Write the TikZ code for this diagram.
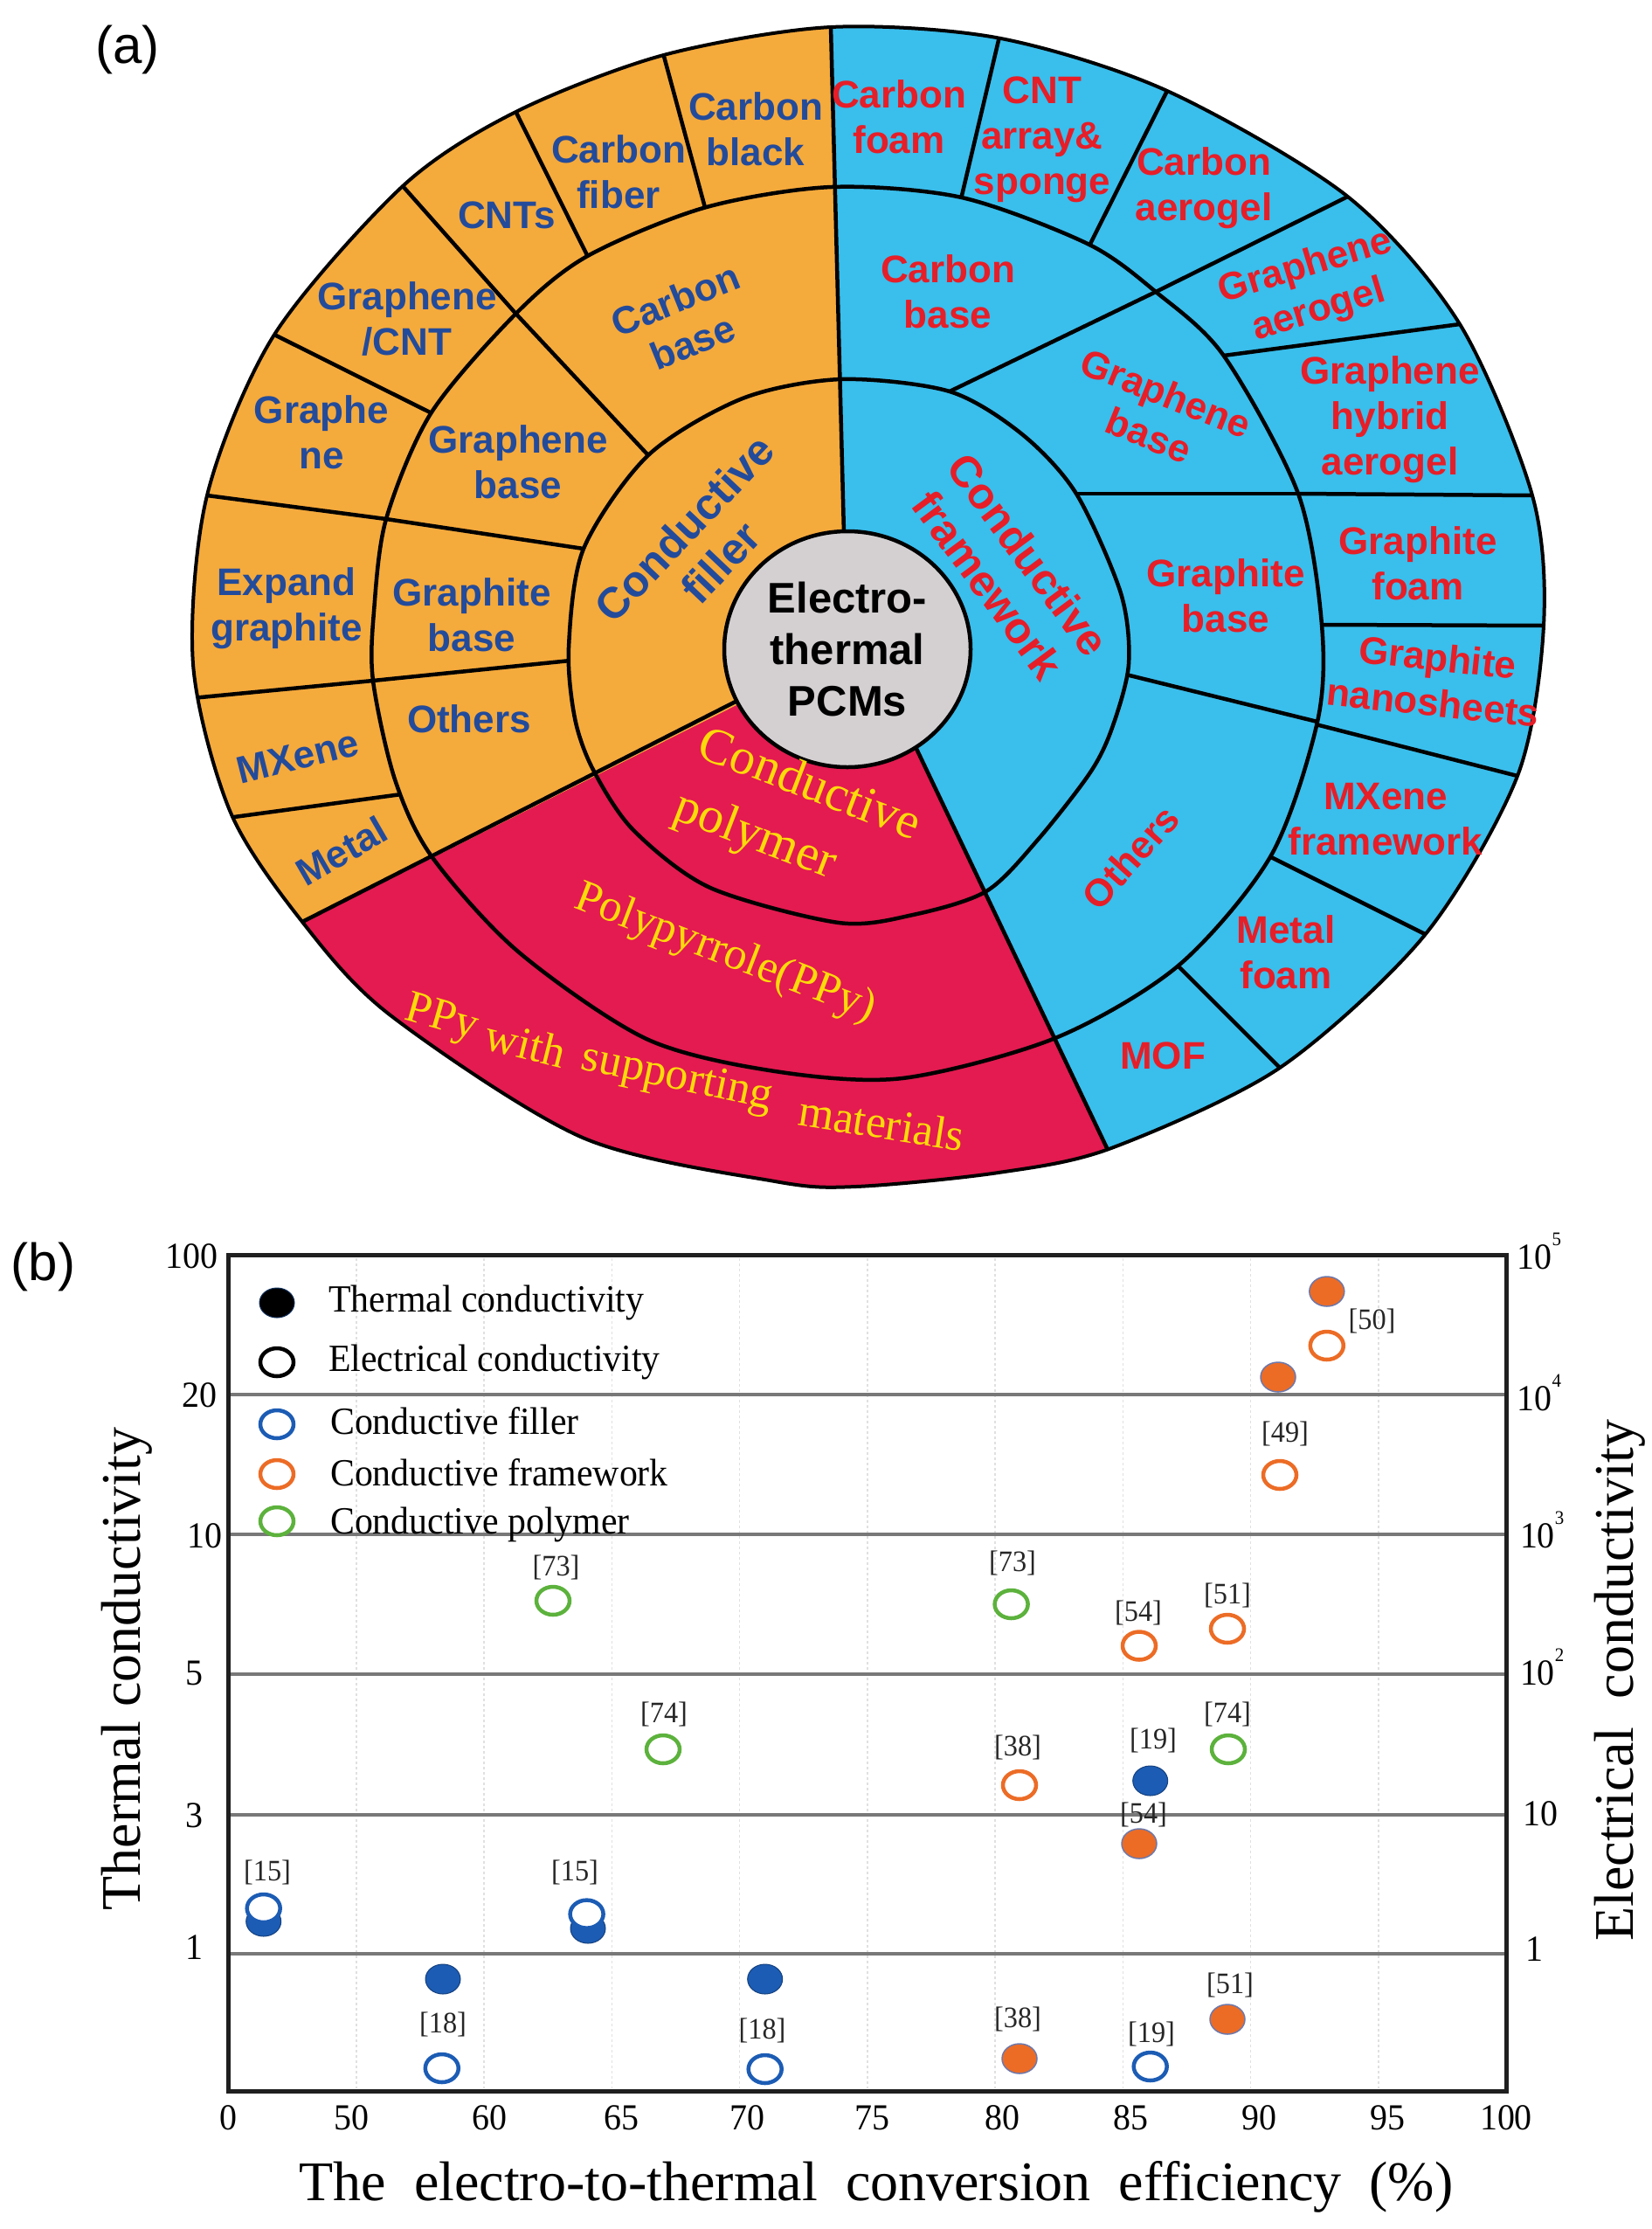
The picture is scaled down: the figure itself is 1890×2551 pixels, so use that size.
\documentclass[tikz,border=0pt]{standalone}
\usepackage{fontspec}
\usetikzlibrary{calc,shapes.geometric}
\newfontfamily\lsans{Liberation Sans}
\newfontfamily\lserif{Liberation Serif}
\newfontfamily\lserifc{Liberation Serif}[FakeStretch=0.95]
\definecolor{cOr}{RGB}{245,170,60}
\definecolor{cBl}{RGB}{58,190,236}
\definecolor{cRd}{RGB}{227,27,80}
\definecolor{cGr}{RGB}{212,208,210}
\definecolor{tBlue}{RGB}{35,75,155}
\definecolor{tRed}{RGB}{230,30,40}
\definecolor{tYel}{RGB}{252,218,10}
\definecolor{pBlue}{RGB}{28,92,180}
\definecolor{pOrange}{RGB}{236,108,38}
\definecolor{pGreen}{RGB}{92,178,60}
\definecolor{pEdge}{RGB}{110,120,170}
\definecolor{gridc}{RGB}{120,120,120}
\newcommand{\outerpath}{plot[smooth cycle] coordinates {(951,31) (1143.6,43.6) (1336,104) (1542.7,225) (1671,371) (1754,567) (1767,716) (1737,888) (1631,1070) (1465,1222) (1272,1314) (1143,1342) (980,1358) (887,1352) (667,1302) (447,1162) (346,1055) (264,930) (221,760) (237,567) (314,383) (461,213) (590.5,128) (759.6,63)}}
\newcommand{\levtwopath}{plot[smooth cycle] coordinates {(952,214) (1100.7,226) (1245,279) (1323,334) (1400.7,407) (1486,565) (1513,715) (1508,826) (1455,979) (1349,1105) (1208,1188) (1033,1234) (887,1226) (740,1189) (593,1089) (494,980) (452,892) (427,779) (428,700) (442,594) (493.5,472.6) (590.5,359) (672.5,293) (807,237.5)}}
\newcommand{\levonepath}{plot[smooth cycle] coordinates {(963,434) (1087,448) (1170,497) (1232,565) (1283,679) (1292,760) (1273,833) (1248,884) (1188,961) (1129,1020) (1045,1047) (960,1056) (813,1016) (725,950) (679,881) (658,822) (651,741) (668,628) (742,521) (850,456)}}
\newcommand{\wedgefills}{%
 \fill[cOr] (969,744) -- (948.6,-60) -- (100,-60) -- (100,1180) -- cycle;
 \fill[cBl] (969,744) -- (948.6,-60) -- (1850,-60) -- (1850,1450) -- (1332,1450) -- (1031,820) -- cycle;
 \fill[cRd] (969,744) -- (100,1180) -- (100,1450) -- (1332,1450) -- (1031,820) -- cycle;}
\newcommand{\tensup}[1]{10\raisebox{0.62em}{\fontsize{22}{22}\selectfont #1}}
\begin{document}
\begin{tikzpicture}[x=1pt,y=-1pt,
 seg/.style={line width=4.5pt},
 rim/.style={line width=4pt},
 otxt/.style={font=\lsans\bfseries\fontsize{44}{52}\selectfont, text=tBlue, align=center, inner sep=0pt},
 btxt/.style={font=\lsans\bfseries\fontsize{44}{52}\selectfont, text=tRed, align=center, inner sep=0pt},
 ytxt/.style={font=\lserif\fontsize{52}{60}\selectfont, text=tYel, inner sep=0pt},
 hgrid/.style={line width=4pt, draw=gridc},
 vgrid/.style={line width=1.5pt, draw=black!12, dash pattern=on 3pt off 3pt},
 plotframe/.style={line width=5pt, draw=black!88},
 tick/.style={font=\lserifc\fontsize{42}{42}\selectfont, inner sep=0pt},
 reflbl/.style={font=\lserifc\fontsize{34}{34}\selectfont, inner sep=0pt, text=black!85},
 lgtxt/.style={font=\lserifc\fontsize{44}{44}\selectfont, inner sep=0pt, anchor=base west},
 axtitle/.style={font=\lserif\fontsize{64}{64}\selectfont, inner sep=0pt},
 mkfill/.style={ellipse, minimum width=40pt, minimum height=34pt, inner sep=0pt},
 mkopen/.style={ellipse, minimum width=38pt, minimum height=32pt, inner sep=0pt, line width=4.5pt, fill=white},
 tfB/.style={mkfill, fill=pBlue, draw=pBlue!70!black, line width=1pt},
 tfO/.style={mkfill, fill=pOrange, draw=pEdge, line width=1.5pt},
 ecB/.style={mkopen, draw=pBlue},
 ecO/.style={mkopen, draw=pOrange},
 ecG/.style={mkopen, draw=pGreen}]
\fill[white] (0,0) rectangle (1890,2551);
\useasboundingbox (0,0) rectangle (1890,2551);
% ---------- (a) sunburst ----------
\begin{scope}
 \clip \outerpath;
 \wedgefills
 \foreach \ax/\ay/\bx/\by in {807/237.5/759.6/63, 672.5/293/590.5/128, 590.5/359/461/213, 493.5/472.6/314/383, 442/594/237/567, 427/779/230/798, 452/910/268/935, 1100.7/225/1143.6/43.6, 1248/279/1336/104, 1323/334/1542.7/225, 1400.7/407/1671/371, 1486/565/1754/567, 1516/715/1767/716, 1510/830/1737/888, 1455/981/1631/1069, 1349/1106/1465/1222}
  \draw[seg] ($(\ax,\ay)!-40pt!(\bx,\by)$) -- ($(\bx,\by)!-40pt!(\ax,\ay)$);
\end{scope}
\begin{scope}
 \clip \levtwopath;
 \wedgefills
 \foreach \ax/\ay/\bx/\by in {742/521/590.5/359, 668/628/442/594, 643/757/427/779, 1087/448/1323/334, 1232/565/1486/565, 1293/773/1510/826.5}
  \draw[seg] ($(\ax,\ay)!-40pt!(\bx,\by)$) -- ($(\bx,\by)!-40pt!(\ax,\ay)$);
\end{scope}
\begin{scope}
 \clip \levonepath;
 \wedgefills
\end{scope}
\begin{scope}
 \clip \outerpath;
 \draw[seg] (967.8,680) -- (949.7,-20);
 \draw[seg] (900,773.5) -- (250,1103.8);
 \draw[seg] (1040,838) -- (1300,1383);
\end{scope}
\draw[seg] \levonepath;
\draw[seg] \levtwopath;
\draw[rim] \outerpath;
\node[ellipse, fill=cGr, draw=black, line width=4.5pt, minimum width=282pt, minimum height=270pt, inner sep=0pt, align=center, font=\lsans\bfseries\fontsize{49}{59}\selectfont] (ctr) at (970,743) {Electro-\\thermal\\PCMs};
% orange labels
\node[otxt] (s1) at (865,148) {Carbon\\black};
\node[otxt] (s2) at (708,197) {Carbon\\fiber};
\node[otxt] (s3) at (580,246) {CNTs};
\node[otxt] (s4) at (466,365) {Graphene\\/CNT};
\node[otxt] (s5) at (368,495) {Graphe\\ne};
\node[otxt] (s6) at (328,696) {Expand\\graphite};
\node[otxt, rotate=14] (s7) at (341,866) {MXene};
\node[otxt, rotate=30] (s8) at (391,974) {Metal};
\node[otxt, rotate=22] (s9) at (783,367) {Carbon\\base};
\node[otxt] (s10) at (593,529) {Graphene\\base};
\node[otxt] (s11) at (540,704) {Graphite\\base};
\node[otxt] (s12) at (537,823) {Others};
\node[otxt, rotate=46.5, font=\lsans\bfseries\fontsize{50}{57}\selectfont] (s13) at (804,624) {Conductive\\filler};
% blue labels
\node[btxt] (b1) at (1029,134) {Carbon\\foam};
\node[btxt] (b2) at (1193,160) {CNT\\array\&\\sponge};
\node[btxt] (b3) at (1378,215) {Carbon\\aerogel};
\node[btxt, rotate=17] (b4) at (1502,331) {Graphene\\aerogel};
\node[btxt] (b5) at (1591,480) {Graphene\\hybrid\\aerogel};
\node[btxt] (b6) at (1623,645) {Graphite\\foam};
\node[btxt, rotate=-6] (b7) at (1643,778) {Graphite\\nanosheets};
\node[btxt] (b8) at (1586,938) {MXene\\framework};
\node[btxt] (b9) at (1472,1090) {Metal\\foam};
\node[btxt] (b10) at (1331,1208) {MOF};
\node[btxt] (b11) at (1085,334) {Carbon\\base};
\node[btxt, rotate=-22] (b12) at (1325,474) {Graphene\\base};
\node[btxt] (b13) at (1403,682) {Graphite\\base};
\node[btxt, rotate=48] (b14) at (1294,981) {Others};
\node[btxt, rotate=-53.5, font=\lsans\bfseries\fontsize{50}{58}\selectfont] (b15) at (1154,652) {Conductive\\framework};
% red labels
\node[ytxt, rotate=-21, align=left, font=\lserif\fontsize{58}{76}\selectfont] (y1) at (912,936) {Conductive\\polymer};
\node[ytxt, rotate=-21] (y2) at (830,1092) {Polypyrrole(PPy)};
\node[ytxt, rotate=-16] (y3) at (505,1167) {PPy};
\node[ytxt, rotate=-14] (y4) at (602,1194) {with};
\node[ytxt, rotate=-12] (y5) at (775,1235) {supporting};
\node[ytxt, rotate=-9] (y6) at (1009,1285) {materials};
\node[font=\lsans\fontsize{60}{60}\selectfont, inner sep=0pt] (la) at (146,57) {(a)};
% ---------- (b) plot ----------
\node[font=\lsans\fontsize{60}{60}\selectfont, inner sep=0pt] (lb) at (49.5,1449.6) {(b)};
\foreach \k in {1,...,9} \draw[vgrid] ({261.5+146.25*\k},1440) -- ({261.5+146.25*\k},2390);
\foreach \yy in {1596,1756,1916,2076.5,2235.5} \draw[hgrid] (261.5,\yy) -- (1724,\yy);
\draw[plotframe] (261.5,1436.5) rectangle (1724,2393);
% left ticks
\node[tick, anchor=base east] (yl1) at (250,1451) {100};
\node[tick, anchor=base east] (yl2) at (249,1610) {20};
\node[tick, anchor=base east] (yl3) at (255,1771) {10};
\node[tick, anchor=base east] (yl4) at (233,1928) {5};
\node[tick, anchor=base east] (yl5) at (233,2091) {3};
\node[tick, anchor=base east] (yl6) at (233,2242.5) {1};
% right ticks
\node[tick, anchor=base west] (yr1) at (1736.6,1452) {\tensup{5}};
\node[tick, anchor=base west] (yr2) at (1736.6,1614) {\tensup{4}};
\node[tick, anchor=base west] (yr3) at (1739.8,1771) {\tensup{3}};
\node[tick, anchor=base west] (yr4) at (1739.8,1928) {\tensup{2}};
\node[tick, anchor=base west] (yr5) at (1742.9,2089) {10};
\node[tick, anchor=base west] (yr6) at (1746,2244.6) {1};
% x ticks
\foreach \xx/\tl [count=\i] in {261.5/0, 402/50, 560/60, 711/65, 855/70, 998/75, 1147.5/80, 1294.6/85, 1441.7/90, 1588/95, 1724/100}
 \node[tick, anchor=base] (xl\i) at (\xx,2437) {\tl};
% axis titles
\node[axtitle, rotate=90] (ytl) at (145,1910) {Thermal conductivity};
\node[axtitle, rotate=90] (ytr) at (1854,1923) {Electrical\ \ conductivity};
\node[axtitle, anchor=base] (xtt) at (1003,2518) {The\ \ electro-to-thermal\ \ conversion\ \ efficiency\ \ (\%)};
% legend
\node[mkfill, fill=black, draw=pBlue!50!black, line width=1pt] (lg1) at (317,1491) {};
\node[lgtxt] (lt1) at (376,1501) {Thermal conductivity};
\node[mkopen, draw=black] (lg2) at (317,1559) {};
\node[lgtxt] (lt2) at (376,1569) {Electrical conductivity};
\node[ecB] (lg3) at (317,1630) {};
\node[lgtxt] (lt3) at (378,1641) {Conductive filler};
\node[ecO] (lg4) at (317,1687) {};
\node[lgtxt] (lt4) at (378,1700) {Conductive framework};
\node[ecG] (lg5) at (317,1741) {};
\node[lgtxt] (lt5) at (378,1755) {Conductive polymer};
% filled points
\node[tfB] (p1) at (301.7,2199) {};
\node[tfB] (p2) at (673,2207) {};
\node[tfB] (p3) at (507,2265) {};
\node[tfB] (p4) at (875.7,2265) {};
\node[tfB] (p5) at (1316.7,2038) {};
\node[tfO] (p6) at (1518.8,1478) {};
\node[tfO] (p7) at (1463,1576) {};
\node[tfO] (p8) at (1304,2110) {};
\node[tfO] (p9) at (1405,2311) {};
\node[tfO] (p10) at (1167,2356) {};
% open points
\node[ecB] (p11) at (301.7,2184) {};
\node[ecB] (p12) at (671.6,2190.6) {};
\node[ecB] (p13) at (505.8,2367) {};
\node[ecB] (p14) at (875.7,2368) {};
\node[ecB] (p15) at (1316.7,2365) {};
\node[ecO] (p16) at (1518.8,1540) {};
\node[ecO] (p17) at (1465,1688) {};
\node[ecO] (p18) at (1304,1883.5) {};
\node[ecO] (p19) at (1405,1864) {};
\node[ecO] (p20) at (1167,2043) {};
\node[ecG] (p21) at (633,1832) {};
\node[ecG] (p22) at (1157.6,1836) {};
\node[ecG] (p23) at (759,2002) {};
\node[ecG] (p24) at (1406,2002) {};
% reference labels
\node[reflbl] (r1) at (1570.5,1512) {[50]};
\node[reflbl] (r2) at (1471,1641) {[49]};
\node[reflbl] (r3) at (1159,1789) {[73]};
\node[reflbl] (r4) at (636.5,1794) {[73]};
\node[reflbl] (r5) at (1303,1846) {[54]};
\node[reflbl] (r6) at (1405,1826) {[51]};
\node[reflbl] (r7) at (760,1962) {[74]};
\node[reflbl] (r8) at (1405,1962) {[74]};
\node[reflbl] (r9) at (1165,2000) {[38]};
\node[reflbl] (r10) at (1320,1992) {[19]};
\node[reflbl] (r11) at (1309,2077) {[54]};
\node[reflbl] (r12) at (306,2143) {[15]};
\node[reflbl] (r13) at (658,2143) {[15]};
\node[reflbl] (r14) at (507,2317) {[18]};
\node[reflbl] (r15) at (872.5,2323.5) {[18]};
\node[reflbl] (r16) at (1408,2272) {[51]};
\node[reflbl] (r17) at (1165,2311) {[38]};
\node[reflbl] (r18) at (1318,2328) {[19]};
\end{tikzpicture}
\end{document}
